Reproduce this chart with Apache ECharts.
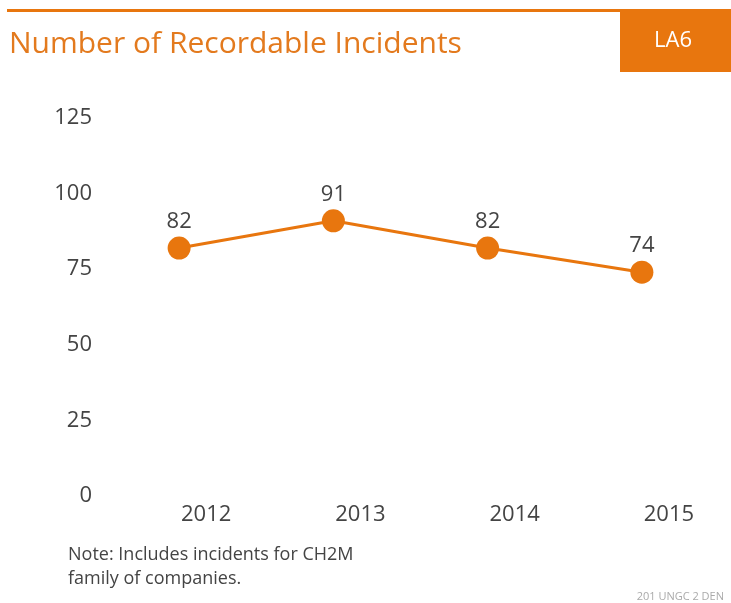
<!DOCTYPE html>
<html>
<head>
<meta charset="utf-8">
<script src="https://cdn.jsdelivr.net/npm/echarts@6/dist/echarts.min.js"></script>
<style>
html,body{margin:0;padding:0;background:#fff;}
#chart{width:731px;height:603px;}
</style>
</head>
<body>
<div id="chart"></div>
<script>
const categories = ['2012', '2013', '2014', '2015'];
const incidents = [82, 91, 82, 74];
const yTicks = [0, 25, 50, 75, 100, 125];
const titleText = 'Number of Recordable Incidents';
const badgeText = 'LA6';
const noteLines = ['Note: Includes incidents for CH2M', 'family of companies.'];
const footerText = '201 UNGC 2 DEN';

const ORANGE = '#e8760e';
const FONT = '"Open Sans", "Noto Sans", sans-serif';

const chart = echarts.init(document.getElementById('chart'), null, {renderer: 'canvas'});
chart.setOption({
  backgroundColor: '#fff',
  animation: false,
  grid: {left: 102, right: 12, top: 118, bottom: 107},
  xAxis: {
    type: 'category',
    data: categories,
    boundaryGap: true,
    axisLine: {show: false},
    axisTick: {show: false},
    axisLabel: {
      color: '#444', fontSize: 22, fontFamily: FONT, margin: 8,
      padding: [0, 0, 0, 54]
    }
  },
  yAxis: {
    type: 'value',
    min: yTicks[0],
    max: yTicks[yTicks.length - 1],
    interval: yTicks[1] - yTicks[0],
    axisLine: {show: false},
    axisTick: {show: false},
    splitLine: {show: false},
    axisLabel: {color: '#444', fontSize: 22, fontFamily: FONT, margin: 10}
  },
  series: [{
    type: 'line',
    data: incidents,
    symbol: 'circle',
    symbolSize: 23,
    lineStyle: {color: ORANGE, width: 3},
    itemStyle: {color: ORANGE},
    label: {
      show: true, position: 'top', distance: 4,
      color: '#444', fontSize: 22, fontFamily: FONT
    }
  }],
  graphic: [
    {type: 'rect', shape: {x: 7, y: 9, width: 614, height: 3}, style: {fill: ORANGE}},
    {type: 'rect', shape: {x: 620, y: 9, width: 111, height: 63}, style: {fill: ORANGE}},
    {type: 'text', x: 673, y: 41, style: {text: badgeText, fill: '#fff', fontSize: 22, fontFamily: FONT, align: 'center', verticalAlign: 'middle'}},
    {type: 'text', x: 9, y: 44, style: {text: titleText, fill: '#e37a1e', fontSize: 30, fontFamily: FONT, align: 'left', verticalAlign: 'middle'}},
    {type: 'text', x: 68, y: 555, style: {text: noteLines[0], fill: '#444', fontSize: 18, fontFamily: FONT, align: 'left', verticalAlign: 'middle'}},
    {type: 'text', x: 68, y: 579, style: {text: noteLines[1], fill: '#444', fontSize: 18, fontFamily: FONT, align: 'left', verticalAlign: 'middle'}},
    {type: 'text', x: 724, y: 597, style: {text: footerText, fill: '#aaa', fontSize: 11, fontFamily: FONT, align: 'right', verticalAlign: 'middle'}}
  ]
});
</script>
</body>
</html>
